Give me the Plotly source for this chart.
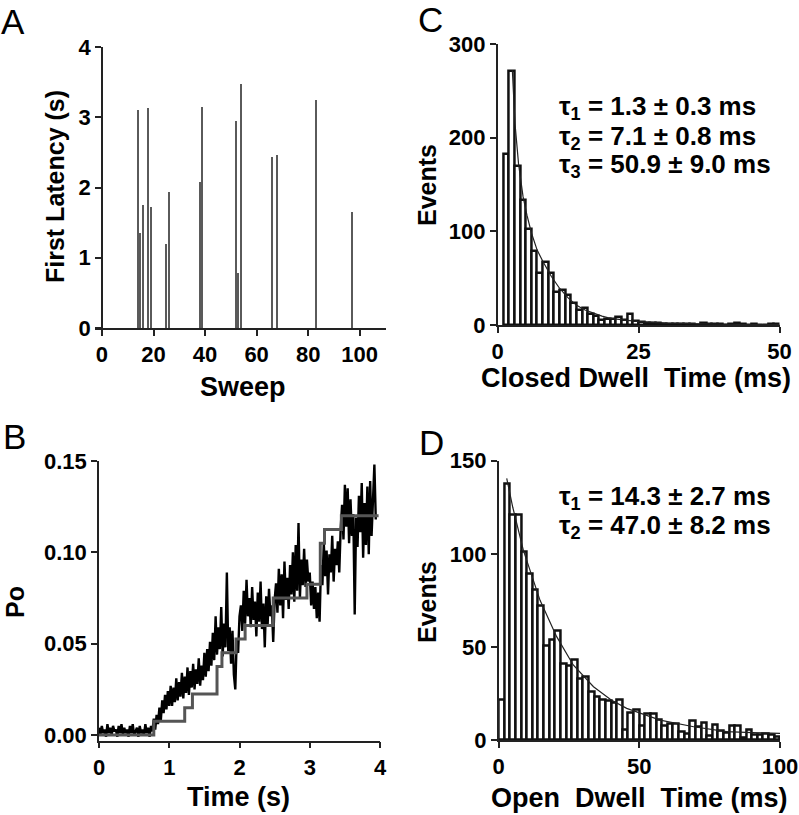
import plotly.graph_objects as go

# ---------------- Panel A: first latency per sweep ----------------
sweeps = [14, 15, 16, 18, 19, 25, 26, 38, 39, 52, 53, 54, 66, 68, 83, 97]
first_latency = [3.11, 1.35, 1.75, 3.13, 1.72, 1.20, 1.94, 2.08, 3.15, 2.94, 0.78, 3.47, 2.43, 2.46, 3.25, 1.65]

# ---------------- Panel B: Po vs time ----------------
po_dt = 0.02  # sampling interval of the displayed trace (s)
po_trace = [
    0.004, 0.000, 0.005, 0.001, 0.003, -0.001, 0.006, 0.001, 0.004, 0.000, 0.005, 0.002, 0.003,
    -0.001, 0.005, 0.001, 0.006, 0.000, 0.004, 0.001, 0.003, -0.001, 0.005, 0.001, 0.006, 0.000,
    0.002, 0.004, -0.001, 0.005, 0.001, 0.003, 0.000, 0.006, 0.001, 0.004, -0.001, 0.005, 0.002,
    0.009, 0.003, 0.011, 0.006, 0.015, 0.008, 0.019, 0.012, 0.022, 0.014, 0.024, 0.016,
    0.027, 0.016, 0.026, 0.018, 0.031, 0.019, 0.029, 0.021, 0.034, 0.020, 0.032, 0.023, 0.037,
    0.022, 0.035, 0.026, 0.039, 0.025, 0.036, 0.028, 0.042, 0.027, 0.038, 0.030, 0.045,
    0.032, 0.047, 0.035, 0.051, 0.038, 0.056, 0.041, 0.065, 0.044, 0.059, 0.047, 0.070, 0.043,
    0.061, 0.048, 0.089, 0.046, 0.059, 0.039, 0.057, 0.033, 0.025, 0.052, 0.045, 0.065,
    0.071, 0.057, 0.079, 0.061, 0.085, 0.065, 0.075, 0.059, 0.081, 0.063, 0.073, 0.054, 0.078,
    0.062, 0.084, 0.058, 0.072, 0.048, 0.076, 0.060, 0.080, 0.065, 0.071, 0.051, 0.074,
    0.083, 0.067, 0.091, 0.071, 0.088, 0.064, 0.095, 0.074, 0.086, 0.069, 0.093, 0.077, 0.100,
    0.073, 0.104, 0.079, 0.116, 0.075, 0.096, 0.082,
    0.102, 0.081, 0.096, 0.084, 0.089, 0.071, 0.084, 0.069, 0.081, 0.064, 0.078, 0.062,
    0.093, 0.082, 0.105, 0.087, 0.101, 0.077, 0.099, 0.089, 0.109, 0.084, 0.102, 0.093, 0.106,
    0.089, 0.113,
    0.126, 0.107, 0.137, 0.114, 0.135, 0.105, 0.129, 0.109, 0.121, 0.066, 0.119, 0.103, 0.131,
    0.111, 0.138, 0.097, 0.127, 0.104, 0.136, 0.099, 0.139, 0.109, 0.129, 0.148, 0.118,
]
po_time = [i * po_dt for i in range(len(po_trace))]

step_time = [0.0, 0.78, 1.22, 1.33, 1.68, 1.75, 1.95, 2.08, 2.48, 2.96, 3.15, 3.21, 3.45, 3.98]
step_po = [0.0, 0.0075, 0.015, 0.0225, 0.0375, 0.045, 0.0525, 0.06, 0.075, 0.0825, 0.105, 0.1125, 0.12, 0.12]

# ---------------- Panel C: closed dwell time histogram ----------------
closed_bin_width = 1.0
closed_counts = [183, 271, 170, 133, 103, 79, 55, 67, 55, 35, 37, 32, 23, 16, 18, 12, 10, 5, 6, 6,
                 9, 5, 12, 4, 3, 2, 2, 2, 1, 1, 1, 1, 1, 1, 0, 2, 1, 1, 1, 0, 1, 2, 1, 0, 1, 0, 0, 1, 1]
closed_centers = [1.5 + i * closed_bin_width for i in range(len(closed_counts))]
closed_fit_t = [2.6, 3.07, 3.7, 4.5, 5.2, 6, 7, 8, 9.5, 11, 12.5, 14, 15.5, 17, 18.5, 20, 22.5, 25,
                30, 35, 40, 45, 50]
closed_fit_y = [272, 215, 172, 137, 117, 98, 80, 68, 52, 39, 29, 21, 16, 12.5, 9.5, 7, 5, 3.5,
                2, 1.2, 0.8, 0.5, 0.3]

# ---------------- Panel D: open dwell time histogram ----------------
open_bin_width = 2.0
open_counts = [21.5, 137.5, 121, 121, 101, 89.5, 80.5, 72, 50.5, 53.7, 58.5, 41, 40, 43, 33, 34,
               26, 23, 21.5, 21, 20, 21.5, 5.7, 14.7, 16.5, 7.5, 14.3, 14.3, 11, 7.5, 8.6, 8.6,
               4.5, 3.2, 10.4, 7.2, 9.3, 2.1, 8.4, 5, 3.9, 7.5, 7.5, 1.4, 5.7, 2.7, 2.7, 3.2, 2.7, 1.9]
open_centers = [1.0 + i * open_bin_width for i in range(len(open_counts))]
open_fit_t = [2.85, 5, 8.75, 14.7, 20.6, 26.5, 33.7, 40, 45.5, 57.4, 69.3, 81, 90, 100]
open_fit_y = [140.5, 125, 102, 75, 55.5, 40.3, 28.6, 21.5, 17, 10.7, 7.1, 4.5, 4, 3.6]

W, H = 799, 815
FONT = "Liberation Sans, Arial, sans-serif"
AX = "#222222"


def px_x(p):
    return p / W


def px_y(p):
    return 1 - p / H


fig = go.Figure()

fig.add_trace(go.Bar(x=sweeps, y=first_latency, width=0.6,
                     marker=dict(color="#5a5a5a", line=dict(width=0)),
                     xaxis="x", yaxis="y", showlegend=False))

fig.add_trace(go.Bar(x=closed_centers, y=closed_counts, width=closed_bin_width,
                     marker=dict(color="white", line=dict(color="#111111", width=2.5)),
                     xaxis="x2", yaxis="y2", showlegend=False))
fig.add_trace(go.Scatter(x=closed_fit_t, y=closed_fit_y, mode="lines",
                         line=dict(color="#222222", width=1.2),
                         xaxis="x2", yaxis="y2", showlegend=False))

fig.add_trace(go.Scatter(x=po_time, y=po_trace, mode="lines",
                         line=dict(color="black", width=2.4),
                         xaxis="x3", yaxis="y3", showlegend=False))
fig.add_trace(go.Scatter(x=step_time, y=step_po, mode="lines", line_shape="hv",
                         line=dict(color="#555555", width=3),
                         xaxis="x3", yaxis="y3", showlegend=False))

fig.add_trace(go.Bar(x=open_centers, y=open_counts, width=open_bin_width,
                     marker=dict(color="white", line=dict(color="#111111", width=2.5)),
                     xaxis="x4", yaxis="y4", showlegend=False))
fig.add_trace(go.Scatter(x=open_fit_t, y=open_fit_y, mode="lines",
                         line=dict(color="#222222", width=1.2),
                         xaxis="x4", yaxis="y4", showlegend=False))

tickfont = dict(family=FONT, size=22, color="black", weight="bold")
common = dict(showgrid=False, zeroline=False, showline=True, linecolor=AX, linewidth=1.5,
              ticks="outside", ticklen=6, tickwidth=1.5, tickcolor=AX, tickfont=tickfont,
              fixedrange=True, automargin=False)

fig.update_layout(
    width=W, height=H,
    margin=dict(l=0, r=0, t=0, b=0, pad=0),
    paper_bgcolor="white", plot_bgcolor="white",
    showlegend=False, bargap=0,
    xaxis=dict(domain=[px_x(95), px_x(385.5)], range=[-2.7, 110], anchor="y",
               tickvals=[0, 20, 40, 60, 80, 100], **common),
    yaxis=dict(domain=[px_y(328), px_y(47)], range=[0, 4], anchor="free", position=px_x(102),
               tickvals=[0, 1, 2, 3, 4], **common),
    xaxis2=dict(domain=[px_x(497.7), px_x(779.5)], range=[0, 50], anchor="y2",
                tickvals=[0, 25, 50], **common),
    yaxis2=dict(domain=[px_y(325), px_y(44)], range=[0, 300], anchor="x2",
                tickvals=[0, 100, 200, 300], **common),
    xaxis3=dict(domain=[px_x(99), px_x(380)], range=[0, 4], anchor="y3",
                tickvals=[0, 1, 2, 3, 4], **common),
    yaxis3=dict(domain=[px_y(740.7), px_y(461)], range=[-0.0031, 0.15], anchor="x3",
                tickvals=[0, 0.05, 0.10, 0.15], tickformat=".2f", **common),
    xaxis4=dict(domain=[px_x(498.7), px_x(780)], range=[0, 100], anchor="y4",
                tickvals=[0, 50, 100], **common),
    yaxis4=dict(domain=[px_y(740), px_y(460.7)], range=[0, 150], anchor="x4",
                tickvals=[0, 50, 100, 150], **common),
)

title_font = dict(family=FONT, size=25, color="black", weight="bold")
htitle_font = dict(family=FONT, size=27, color="black", weight="bold")
label_font = dict(family=FONT, size=35, color="black")
note_font = dict(family=FONT, size=26, color="black", weight="bold")


def ann(text, x, y, font, angle=0, xanchor="center"):
    fig.add_annotation(text=text, x=px_x(x), y=px_y(y), xref="paper", yref="paper",
                       showarrow=False, font=font, textangle=angle,
                       xanchor=xanchor, yanchor="middle")


# panel letters
ann("A", 13, 22, label_font)
ann("B", 14, 436, label_font)
ann("C", 430, 20, label_font)
ann("D", 431, 442, label_font)

# axis titles
ann("First Latency (s)", 55, 187, title_font, angle=-90)
ann("Sweep", 243, 387, htitle_font)
ann("Events", 427, 185, title_font, angle=-90)
ann("Closed Dwell\u00a0 Time (ms)", 636, 378, htitle_font)
ann("Po", 15, 602, title_font, angle=-90)
ann("Time (s)", 239, 797, htitle_font)
ann("Events", 427, 602, title_font, angle=-90)
ann("Open\u00a0 Dwell\u00a0 Time (ms)", 639, 798, htitle_font)

# fit parameters
ann("τ<sub>1</sub> = 1.3 ± 0.3 ms", 557, 107, note_font, xanchor="left")
ann("τ<sub>2</sub> = 7.1 ± 0.8 ms", 557, 137, note_font, xanchor="left")
ann("τ<sub>3</sub> = 50.9 ± 9.0 ms", 557, 166, note_font, xanchor="left")
ann("τ<sub>1</sub> = 14.3 ± 2.7 ms", 557, 497, note_font, xanchor="left")
ann("τ<sub>2</sub> = 47.0 ± 8.2 ms", 557, 526, note_font, xanchor="left")

fig.write_html("out.html", config={"displayModeBar": False},
               post_script="document.body.style.margin='0';document.body.style.overflow='hidden';")
